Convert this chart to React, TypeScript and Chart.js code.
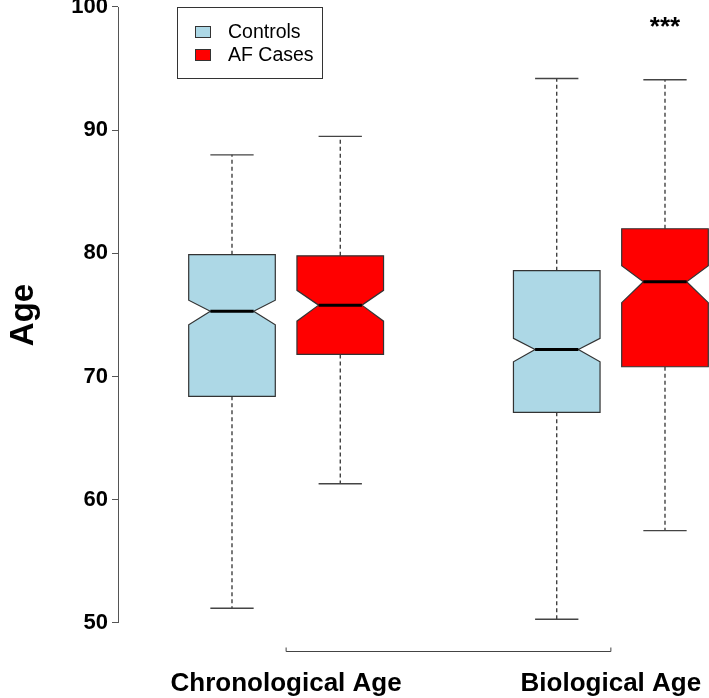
import React, { useEffect, useRef } from "react";
import { Chart, registerables } from "chart.js";

Chart.register(...registerables);

// ---------- data ----------
const groupLabels = ["Chronological Age", "Biological Age"];
const groupCenters = [1.5, 4.5];
const seriesNames = ["Controls", "AF Cases"];
const seriesColors = ["#ADD8E6", "#FF0000"];

const controlsPos = [1, 4];
const controlsLow = [51.2, 50.3];
const controlsQ1 = [68.4, 67.1];
const controlsNotchLow = [74.2, 71.2];
const controlsMedian = [75.3, 72.2];
const controlsNotchHigh = [76.2, 73.1];
const controlsQ3 = [79.9, 78.6];
const controlsHigh = [88.0, 94.2];

const casesPos = [2, 5];
const casesLow = [61.3, 57.5];
const casesQ1 = [71.8, 70.8];
const casesNotchLow = [74.5, 76.0];
const casesMedian = [75.8, 77.7];
const casesNotchHigh = [77.0, 79.0];
const casesQ3 = [79.8, 82.0];
const casesHigh = [89.5, 94.1];

const significance = ["", "***"];
const yTicks = [50, 60, 70, 80, 90, 100];
const yAxisTitle = "Age";

const FONT = "'Liberation Sans', Arial, Helvetica, sans-serif";

type Box = {
  x: number; low: number; q1: number; nlo: number; med: number; nhi: number; q3: number; high: number;
};

const makeBoxes = (
  pos: number[], low: number[], q1: number[], nlo: number[], med: number[], nhi: number[], q3: number[], high: number[]
): Box[] => pos.map((x, i) => ({ x, low: low[i], q1: q1[i], nlo: nlo[i], med: med[i], nhi: nhi[i], q3: q3[i], high: high[i] }));

const seriesBoxes: Box[][] = [
  makeBoxes(controlsPos, controlsLow, controlsQ1, controlsNotchLow, controlsMedian, controlsNotchHigh, controlsQ3, controlsHigh),
  makeBoxes(casesPos, casesLow, casesQ1, casesNotchLow, casesMedian, casesNotchHigh, casesQ3, casesHigh),
];

const BOX_W = 0.8;
const CAP_W = 0.4;
const NOTCH_W = 0.4;

const boxPlugin = {
  id: "boxPlugin",
  afterDatasetsDraw(chart: any) {
    const { ctx, chartArea } = chart;
    const xs = chart.scales.x;
    const ys = chart.scales.y;
    ctx.save();

    // boxes
    seriesBoxes.forEach((boxes, si) => {
      boxes.forEach((b) => {
        const xc = xs.getPixelForValue(b.x);
        const xl = xs.getPixelForValue(b.x - BOX_W / 2);
        const xr = xs.getPixelForValue(b.x + BOX_W / 2);
        const nl = xs.getPixelForValue(b.x - NOTCH_W / 2);
        const nr = xs.getPixelForValue(b.x + NOTCH_W / 2);
        const cl = xs.getPixelForValue(b.x - CAP_W / 2);
        const cr = xs.getPixelForValue(b.x + CAP_W / 2);
        const yLow = ys.getPixelForValue(b.low);
        const yQ1 = ys.getPixelForValue(b.q1);
        const yNlo = ys.getPixelForValue(b.nlo);
        const yMed = ys.getPixelForValue(b.med);
        const yNhi = ys.getPixelForValue(b.nhi);
        const yQ3 = ys.getPixelForValue(b.q3);
        const yHigh = ys.getPixelForValue(b.high);

        // whiskers (dashed)
        ctx.strokeStyle = "#222222";
        ctx.lineWidth = 1.2;
        ctx.setLineDash([4, 3]);
        ctx.beginPath();
        ctx.moveTo(xc, yQ3);
        ctx.lineTo(xc, yHigh);
        ctx.moveTo(xc, yQ1);
        ctx.lineTo(xc, yLow);
        ctx.stroke();
        ctx.setLineDash([]);

        // caps
        ctx.strokeStyle = "#444444";
        ctx.lineWidth = 1.4;
        ctx.beginPath();
        ctx.moveTo(cl, yHigh);
        ctx.lineTo(cr, yHigh);
        ctx.moveTo(cl, yLow);
        ctx.lineTo(cr, yLow);
        ctx.stroke();

        // notched box
        ctx.beginPath();
        ctx.moveTo(xl, yQ3);
        ctx.lineTo(xr, yQ3);
        ctx.lineTo(xr, yNhi);
        ctx.lineTo(nr, yMed);
        ctx.lineTo(xr, yNlo);
        ctx.lineTo(xr, yQ1);
        ctx.lineTo(xl, yQ1);
        ctx.lineTo(xl, yNlo);
        ctx.lineTo(nl, yMed);
        ctx.lineTo(xl, yNhi);
        ctx.closePath();
        ctx.fillStyle = seriesColors[si];
        ctx.fill();
        ctx.strokeStyle = "#333333";
        ctx.lineWidth = 1.2;
        ctx.stroke();

        // median
        ctx.strokeStyle = "#000000";
        ctx.lineWidth = 3;
        ctx.beginPath();
        ctx.moveTo(nl, yMed);
        ctx.lineTo(nr, yMed);
        ctx.stroke();
      });
    });

    // significance marks
    ctx.fillStyle = "#000000";
    ctx.font = `bold 26px ${FONT}`;
    ctx.textAlign = "center";
    ctx.textBaseline = "alphabetic";
    significance.forEach((s, i) => {
      if (!s) return;
      ctx.fillText(s, xs.getPixelForValue(casesPos[i]), ys.getPixelForValue(yTicks[yTicks.length - 1]) + 28);
    });

    // y axis line (only across tick range)
    ctx.strokeStyle = "#555555";
    ctx.lineWidth = 1;
    ctx.beginPath();
    ctx.moveTo(chartArea.left + 0.5, ys.getPixelForValue(yTicks[0]));
    ctx.lineTo(chartArea.left + 0.5, ys.getPixelForValue(yTicks[yTicks.length - 1]));
    ctx.stroke();

    // y axis title
    ctx.save();
    const yMid = ys.getPixelForValue((yTicks[0] + yTicks[yTicks.length - 1]) / 2);
    ctx.translate(33, yMid);
    ctx.rotate(-Math.PI / 2);
    ctx.font = `bold 33px ${FONT}`;
    ctx.textAlign = "center";
    ctx.textBaseline = "alphabetic";
    ctx.fillStyle = "#000000";
    ctx.fillText(yAxisTitle, 0, 0);
    ctx.restore();

    // x axis bracket
    const bx1 = xs.getPixelForValue(groupCenters[0]);
    const bx2 = xs.getPixelForValue(groupCenters[groupCenters.length - 1]);
    const by = chartArea.bottom + 11.5;
    ctx.strokeStyle = "#444444";
    ctx.lineWidth = 1;
    ctx.beginPath();
    ctx.moveTo(bx1, by - 4);
    ctx.lineTo(bx1, by);
    ctx.lineTo(bx2, by);
    ctx.lineTo(bx2, by - 4);
    ctx.stroke();

    // x category labels
    ctx.font = `bold 26px ${FONT}`;
    ctx.textAlign = "center";
    ctx.textBaseline = "alphabetic";
    ctx.fillStyle = "#000000";
    groupLabels.forEach((g, i) => {
      ctx.fillText(g, xs.getPixelForValue(groupCenters[i]), chartArea.bottom + 51);
    });

    // legend
    const lx = 177.5, ly = 7.5, lw = 145, lh = 71;
    ctx.fillStyle = "#ffffff";
    ctx.fillRect(lx, ly, lw, lh);
    ctx.strokeStyle = "#333333";
    ctx.lineWidth = 1;
    ctx.strokeRect(lx, ly, lw, lh);
    ctx.font = `19.5px ${FONT}`;
    ctx.textAlign = "left";
    ctx.textBaseline = "middle";
    seriesNames.forEach((name, i) => {
      const cy = 32 + i * 23;
      ctx.fillStyle = seriesColors[i];
      ctx.fillRect(195.5, cy - 5.5, 15, 11);
      ctx.strokeStyle = "#333333";
      ctx.strokeRect(195.5, cy - 5.5, 15, 11);
      ctx.fillStyle = "#000000";
      ctx.fillText(name, 228, cy + 1);
    });

    ctx.restore();
  },
};

export default function App() {
  const canvasRef = useRef<HTMLCanvasElement | null>(null);

  useEffect(() => {
    if (!canvasRef.current) return;
    const chart = new Chart(canvasRef.current, {
      type: "scatter",
      data: {
        datasets: seriesNames.map((name, si) => ({
          label: name,
          data: seriesBoxes[si].map((b) => ({ x: b.x, y: b.med })),
          pointRadius: 0,
          pointHoverRadius: 0,
          backgroundColor: seriesColors[si],
          borderColor: seriesColors[si],
        })),
      },
      plugins: [boxPlugin],
      options: {
        animation: false,
        responsive: false,
        events: [],
        layout: { padding: { top: 0, right: 0, bottom: 58, left: 0 } },
        plugins: {
          legend: { display: false },
          tooltip: { enabled: false },
          title: { display: false },
        },
        scales: {
          x: {
            type: "linear",
            display: false,
            min: -0.0531,
            max: 5.4065,
          },
          y: {
            type: "linear",
            min: 48.62,
            max: 100.568,
            afterBuildTicks: (axis: any) => {
              axis.ticks = yTicks.map((v) => ({ value: v }));
            },
            afterFit: (scale: any) => {
              scale.width = 118;
              scale.paddingTop = 0;
              scale.paddingBottom = 0;
            },
            border: { display: false },
            grid: {
              drawOnChartArea: false,
              drawTicks: true,
              tickLength: 6,
              color: "#555555",
              lineWidth: 1,
            },
            ticks: {
              padding: 4,
              color: "#000000",
              font: { family: FONT, size: 22, weight: "bold" },
              callback: (v: any) => String(v),
            },
          },
        },
      },
    });
    return () => chart.destroy();
  }, []);

  return (
    <div style={{ position: "fixed", left: 0, top: 0, width: 709, height: 698, background: "#ffffff" }}>
      <canvas ref={canvasRef} width={709} height={698} style={{ display: "block", width: 709, height: 698 }} />
    </div>
  );
}
